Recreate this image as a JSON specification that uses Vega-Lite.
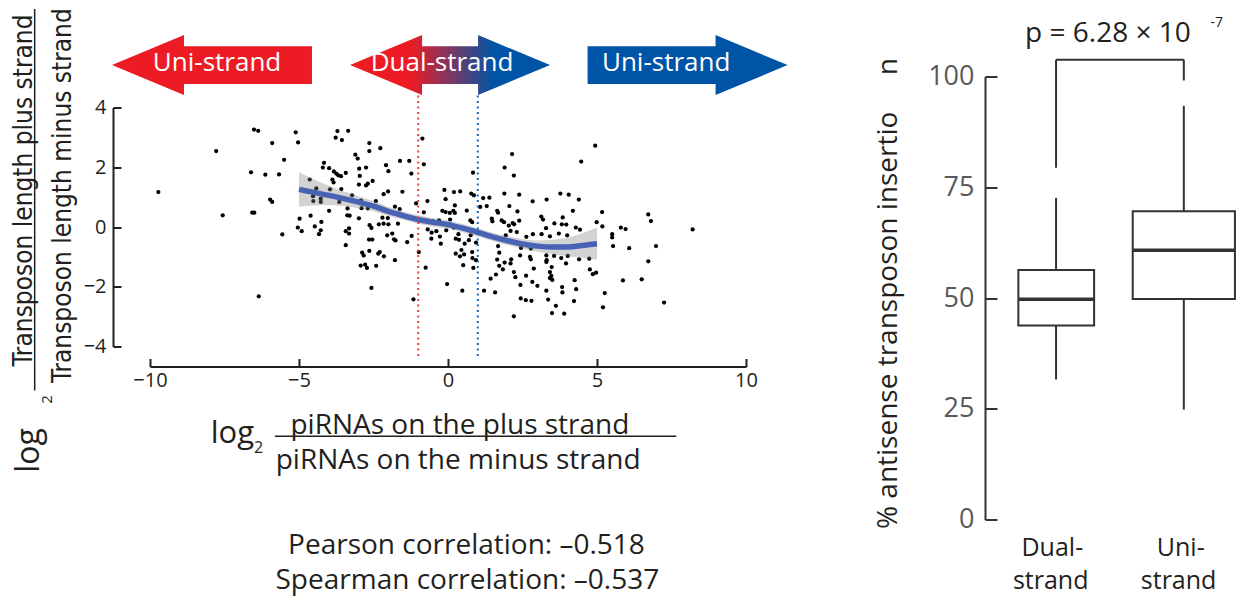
{
  "$schema": "https://vega.github.io/schema/vega-lite/v6.json",
  "background": "white",
  "padding": {"left": 10, "top": 7.5, "right": 0, "bottom": 5},
  "bounds": "flush",
  "spacing": 239,
  "config": {"view": {"stroke": null}, "font": "Open Sans", "text": {"color": "#231F20"}},
  "datasets": {
    "pts": [
      {"x":-9.72,"y":1.17},{"x":-7.78,"y":2.54},{"x":-7.56,"y":0.39},{"x":-6.51,"y":3.26},{"x":-6.37,"y":3.22},{"x":-6.61,"y":1.83},{"x":-6.13,"y":1.75},{"x":-5.90,"y":2.81},{"x":-5.67,"y":1.76},{"x":-5.50,"y":2.25},
      {"x":-5.97,"y":0.92},{"x":-5.90,"y":0.84},{"x":-6.57,"y":0.48},{"x":-6.50,"y":0.48},{"x":-5.56,"y":-0.25},{"x":-6.35,"y":-2.32},{"x":-5.11,"y":3.17},{"x":-5.03,"y":2.83},{"x":-3.71,"y":3.21},{"x":-3.35,"y":3.22},
      {"x":-3.77,"y":2.99},{"x":-3.56,"y":2.91},{"x":-2.64,"y":2.81},{"x":-2.64,"y":2.54},{"x":-2.27,"y":2.64},{"x":-0.86,"y":2.96},{"x":-3.11,"y":2.42},{"x":-3.03,"y":2.29},{"x":-4.16,"y":2.15},{"x":-4.20,"y":1.99},
      {"x":-3.99,"y":1.97},{"x":-2.08,"y":2.07},{"x":-1.61,"y":2.21},{"x":-1.30,"y":2.21},{"x":-0.81,"y":2.10},{"x":-3.83,"y":1.86},{"x":-3.75,"y":1.79},{"x":-3.68,"y":1.73},{"x":-3.59,"y":1.70},{"x":-3.43,"y":1.81},
      {"x":-2.98,"y":1.95},{"x":-2.75,"y":1.99},{"x":-2.00,"y":1.87},{"x":-1.23,"y":1.79},{"x":-2.96,"y":1.71},{"x":-3.88,"y":1.59},{"x":-4.64,"y":1.59},{"x":-3.84,"y":1.49},{"x":-2.53,"y":1.54},{"x":-2.99,"y":1.42},
      {"x":-2.69,"y":1.45},{"x":-2.75,"y":1.39},{"x":-4.42,"y":1.29},{"x":-3.96,"y":1.26},{"x":-3.58,"y":1.27},{"x":-2.01,"y":1.19},{"x":-1.53,"y":1.18},{"x":-2.16,"y":1.10},{"x":-0.12,"y":1.24},{"x":-0.08,"y":0.93},
      {"x":-4.53,"y":1.03},{"x":-4.27,"y":0.95},{"x":-4.27,"y":0.84},{"x":-4.52,"y":0.87},{"x":-3.65,"y":0.84},{"x":-3.22,"y":1.06},{"x":-2.92,"y":0.88},{"x":-2.42,"y":0.87},{"x":-1.07,"y":0.79},{"x":-0.69,"y":0.87},
      {"x":-3.37,"y":0.62},{"x":-2.90,"y":0.63},{"x":-2.69,"y":0.62},{"x":-1.78,"y":0.68},{"x":-1.62,"y":0.60},{"x":-3.99,"y":0.54},{"x":-0.81,"y":0.49},{"x":-0.19,"y":0.54},{"x":-0.08,"y":0.50},{"x":-4.61,"y":0.38},
      {"x":-4.98,"y":0.28},{"x":-3.38,"y":0.39},{"x":-3.30,"y":0.38},{"x":-2.99,"y":0.29},{"x":-2.20,"y":0.31},{"x":-2.02,"y":0.30},{"x":-4.25,"y":0.17},{"x":-4.47,"y":0.02},{"x":-2.63,"y":0.06},{"x":-2.32,"y":0.09},
      {"x":-2.16,"y":0.11},{"x":-2.00,"y":0.09},{"x":-1.68,"y":0.11},{"x":-0.50,"y":0.19},{"x":-0.30,"y":0.22},{"x":-5.04,"y":-0.02},{"x":-3.32,"y":-0.05},{"x":-4.91,"y":-0.14},{"x":-4.27,"y":-0.11},{"x":-4.33,"y":-0.24},
      {"x":-3.43,"y":-0.14},{"x":-3.32,"y":-0.22},{"x":-2.57,"y":-0.03},{"x":-2.04,"y":-0.28},{"x":-1.87,"y":-0.22},{"x":-1.81,"y":-0.41},{"x":-1.76,"y":-0.45},{"x":-2.65,"y":-0.42},{"x":-2.54,"y":-0.42},{"x":-1.37,"y":-0.51},
      {"x":-1.22,"y":-0.30},{"x":-3.43,"y":-0.61},{"x":-2.88,"y":-0.86},{"x":-2.83,"y":-0.95},{"x":-2.64,"y":-0.80},{"x":-2.34,"y":-0.89},{"x":-2.29,"y":-0.84},{"x":-2.15,"y":-0.98},{"x":-1.78,"y":-1.11},{"x":-0.98,"y":-0.84},
      {"x":-2.93,"y":-1.29},{"x":-2.78,"y":-1.26},{"x":-2.72,"y":-1.37},{"x":-2.41,"y":-1.30},{"x":-0.75,"y":-1.36},{"x":-2.57,"y":-2.04},{"x":-1.16,"y":-2.42},{"x":-0.03,"y":-1.91},{"x":-0.68,"y":-0.08},{"x":-0.55,"y":-0.19},
      {"x":-0.39,"y":-0.14},{"x":-0.56,"y":-0.39},{"x":-0.27,"y":-0.32},{"x":-0.24,"y":-0.56},{"x":-0.06,"y":-0.11},{"x":2.15,"y":2.44},{"x":1.90,"y":1.99},{"x":2.21,"y":1.72},{"x":0.84,"y":1.82},{"x":4.94,"y":2.72},
      {"x":4.47,"y":2.19},{"x":0.20,"y":1.17},{"x":0.41,"y":1.19},{"x":0.78,"y":1.12},{"x":0.87,"y":1.06},{"x":1.18,"y":0.97},{"x":1.39,"y":0.98},{"x":1.89,"y":1.12},{"x":2.39,"y":1.08},{"x":0.23,"y":0.72},
      {"x":1.08,"y":0.67},{"x":1.30,"y":0.70},{"x":2.06,"y":0.70},{"x":2.84,"y":0.86},{"x":3.31,"y":0.92},{"x":3.77,"y":1.12},{"x":4.05,"y":1.08},{"x":4.39,"y":0.92},{"x":0.63,"y":0.55},{"x":0.18,"y":0.54},
      {"x":0.06,"y":0.47},{"x":0.23,"y":0.47},{"x":1.65,"y":0.54},{"x":1.68,"y":0.48},{"x":2.33,"y":0.52},{"x":4.19,"y":0.54},{"x":5.17,"y":0.50},{"x":0.07,"y":0.25},{"x":0.75,"y":0.22},{"x":0.81,"y":0.16},
      {"x":1.47,"y":0.28},{"x":1.49,"y":0.19},{"x":1.80,"y":0.22},{"x":1.88,"y":0.16},{"x":2.17,"y":0.13},{"x":2.39,"y":0.21},{"x":2.04,"y":0.05},{"x":2.22,"y":0.09},{"x":3.13,"y":0.35},{"x":3.19,"y":0.25},
      {"x":3.57,"y":0.12},{"x":3.85,"y":0.32},{"x":3.82,"y":0.09},{"x":3.97,"y":0.08},{"x":4.99,"y":0.16},{"x":5.18,"y":0.02},{"x":4.29,"y":-0.02},{"x":4.43,"y":-0.09},{"x":3.29,"y":-0.04},{"x":2.10,"y":-0.13},
      {"x":2.31,"y":-0.17},{"x":0.20,"y":-0.02},{"x":0.35,"y":-0.24},{"x":0.76,"y":-0.28},{"x":0.26,"y":-0.39},{"x":1.94,"y":-0.28},{"x":2.63,"y":-0.33},{"x":2.85,"y":-0.24},{"x":3.14,"y":-0.24},{"x":3.42,"y":-0.31},
      {"x":3.72,"y":-0.22},{"x":4.00,"y":-0.28},{"x":0.37,"y":-0.43},{"x":0.56,"y":-0.56},{"x":0.70,"y":-0.44},{"x":0.94,"y":-0.52},{"x":0.45,"y":-0.77},{"x":0.26,"y":-0.89},{"x":0.40,"y":-0.98},{"x":0.54,"y":-0.92},
      {"x":0.81,"y":-0.84},{"x":0.82,"y":-1.04},{"x":0.94,"y":-1.11},{"x":0.51,"y":-1.28},{"x":0.85,"y":-1.37},{"x":1.68,"y":-0.64},{"x":1.72,"y":-0.86},{"x":1.65,"y":-1.09},{"x":1.90,"y":-1.19},{"x":2.10,"y":-1.22},
      {"x":2.12,"y":-1.08},{"x":1.72,"y":-1.30},{"x":1.84,"y":-1.42},{"x":2.42,"y":-0.95},{"x":2.75,"y":-1.00},{"x":2.78,"y":-1.08},{"x":2.45,"y":-0.70},{"x":2.78,"y":-0.72},{"x":3.30,"y":-0.95},{"x":3.31,"y":-1.11},
      {"x":3.30,"y":-1.17},{"x":3.56,"y":-0.97},{"x":3.48,"y":-1.34},{"x":3.80,"y":-1.04},{"x":3.96,"y":-1.22},{"x":4.02,"y":-0.97},{"x":4.40,"y":-1.08},{"x":4.74,"y":-1.06},{"x":4.76,"y":-1.42},{"x":4.86,"y":-1.58},
      {"x":4.97,"y":-1.53},{"x":2.21,"y":-1.51},{"x":2.26,"y":-1.68},{"x":1.61,"y":-1.59},{"x":1.43,"y":-1.73},{"x":2.62,"y":-1.63},{"x":2.88,"y":-1.39},{"x":3.42,"y":-1.51},{"x":3.42,"y":-1.71},{"x":3.47,"y":-1.64},
      {"x":3.50,"y":-1.77},{"x":2.83,"y":-1.84},{"x":3.00,"y":-1.97},{"x":2.43,"y":-1.94},{"x":3.30,"y":-2.13},{"x":3.83,"y":-2.01},{"x":3.84,"y":-2.19},{"x":4.25,"y":-1.78},{"x":4.30,"y":-2.08},{"x":4.23,"y":-2.48},
      {"x":0.48,"y":-2.13},{"x":1.21,"y":-2.13},{"x":1.58,"y":-2.19},{"x":2.44,"y":-2.39},{"x":2.61,"y":-2.45},{"x":2.80,"y":-2.47},{"x":3.36,"y":-2.43},{"x":3.62,"y":-2.64},{"x":3.49,"y":-2.88},{"x":3.90,"y":-2.90},
      {"x":2.21,"y":-2.99},{"x":5.20,"y":-2.69},{"x":5.51,"y":-0.24},{"x":5.51,"y":-0.35},{"x":5.54,"y":-0.64},{"x":5.80,"y":-0.02},{"x":5.96,"y":-0.07},{"x":6.08,"y":-0.71},{"x":6.72,"y":0.42},{"x":6.81,"y":0.20},
      {"x":6.98,"y":-0.64},{"x":6.72,"y":-1.15},{"x":6.50,"y":-1.75},{"x":5.87,"y":-1.79},{"x":5.26,"y":-2.21},{"x":7.25,"y":-2.53},{"x":8.21,"y":-0.08}
    ],
    "fit": [
      {"x":-5,"y":1.26},{"x":-4.5,"y":1.16},{"x":-4,"y":1.06},{"x":-3.5,"y":0.95},{"x":-3,"y":0.83},{"x":-2.5,"y":0.70},{"x":-2,"y":0.52},
      {"x":-1.5,"y":0.38},{"x":-1,"y":0.25},{"x":-0.5,"y":0.16},{"x":0,"y":0.08},{"x":0.5,"y":-0.04},{"x":1,"y":-0.18},{"x":1.5,"y":-0.33},
      {"x":2,"y":-0.46},{"x":2.5,"y":-0.57},{"x":3,"y":-0.64},{"x":3.5,"y":-0.67},{"x":4,"y":-0.67},{"x":4.5,"y":-0.62},{"x":5,"y":-0.56}
    ],
    "band": [
      {"x":-5,"y":0.68,"y2":1.84},{"x":-4.5,"y":0.72,"y2":1.60},{"x":-4,"y":0.74,"y2":1.38},{"x":-3.5,"y":0.70,"y2":1.20},{"x":-3,"y":0.63,"y2":1.03},
      {"x":-2.5,"y":0.53,"y2":0.87},{"x":-2,"y":0.37,"y2":0.67},{"x":-1.5,"y":0.24,"y2":0.52},{"x":-1,"y":0.11,"y2":0.39},{"x":-0.5,"y":0.02,"y2":0.30},
      {"x":0,"y":-0.06,"y2":0.22},{"x":0.5,"y":-0.18,"y2":0.10},{"x":1,"y":-0.32,"y2":-0.04},{"x":1.5,"y":-0.47,"y2":-0.19},{"x":2,"y":-0.61,"y2":-0.31},
      {"x":2.5,"y":-0.73,"y2":-0.41},{"x":3,"y":-0.83,"y2":-0.45},{"x":3.5,"y":-0.91,"y2":-0.43},{"x":4,"y":-0.98,"y2":-0.36},{"x":4.5,"y":-1.03,"y2":-0.21},{"x":5,"y":-1.10,"y2":-0.02}
    ],
    "vred": [{"x":-1,"y":4.40,"y2":-4.40}],
    "vblue": [{"x":1,"y":4.40,"y2":-4.40}],
    "arrowL": [{"x":-7.92,"y":5.42}],
    "arrowD": [{"x":0.07,"y":5.42}],
    "arrowR": [{"x":8.04,"y":5.42}],
    "uniTxt": [{"x":-7.75,"y":5.48,"t":"Uni-strand"},{"x":7.32,"y":5.48,"t":"Uni-strand"}],
    "dualTxt": [{"x":-0.2,"y":5.48,"t":"Dual-strand"}],
    "xTitle": [
      {"x":0.40,"y":-6.92,"t":"piRNAs on the plus strand"},
      {"x":0.34,"y":-8.09,"t":"piRNAs on the minus strand"},
      {"x":0.62,"y":-10.96,"t":"Pearson correlation: –0.518"},
      {"x":0.65,"y":-12.11,"t":"Spearman correlation: –0.537"}
    ],
    "xLog": [{"x":-7.96,"y":-7.22,"t":"log"}],
    "xSub": [{"x":-6.51,"y":-7.58,"t":"2"}],
    "xBar": [{"x":-5.81,"x2":7.66,"y":-7.0}],
    "yTitle": [
      {"x":-13.96,"y":1.22,"t":"Transposon length plus strand"},
      {"x":-12.66,"y":1.05,"t":"Transposon length minus strand"}
    ],
    "yLog": [{"x":-13.72,"y":-7.48,"t":"log"}],
    "ySub": [{"x":-13.29,"y":-5.77,"t":"2"}],
    "yBar": [{"x":-13.87,"y":7.30,"y2":-5.47}],
    "boxes": [{"x":0.705,"x2":1.298,"y":43.8,"y2":56.3},{"x":1.60,"x2":2.40,"y":49.8,"y2":69.6}],
    "whisk": [{"x":1,"y":31.6,"y2":43.8},{"x":1,"y":56.3,"y2":72.6},{"x":2,"y":24.8,"y2":49.8},{"x":2,"y":69.6,"y2":93.4}],
    "med": [{"x":0.705,"x2":1.298,"y":49.7},{"x":1.60,"x2":2.40,"y":60.8}],
    "bracket": [{"x":1,"x2":1,"y":79.4,"y2":103.8},{"x":1,"x2":2,"y":103.8,"y2":103.8},{"x":2,"x2":2,"y":99.1,"y2":103.8}],
    "cats": [{"x":0.971,"y":-8.24,"t":"Dual-"},{"x":0.958,"y":-15.75,"t":"strand"},{"x":1.976,"y":-8.24,"t":"Uni-"},{"x":1.959,"y":-15.75,"t":"strand"}],
    "pTxt": [{"x":1.406,"y":107.75,"t":"p = 6.28 × 10"}],
    "pSup": [{"x":2.258,"y":111.1,"t":"-7"}],
    "rTitle": [{"x":-0.245,"y":51.0,"t":"% antisense transposon insertio\u00a0\u00a0\u00a0\u00a0\u00a0n"}]
  },
  "hconcat": [
    {
      "width": 596,
      "height": 270,
      "encoding": {
        "x": {"field": "x", "type": "quantitative",
          "scale": {"domain": [-10, 10], "nice": false, "zero": false},
          "axis": {"title": null, "offset": 20, "values": [-10, -5, 0, 5, 10], "tickSize": -8, "tickWidth": 2, "tickColor": "#231F20",
            "domainColor": "#231F20", "domainWidth": 2, "labelPadding": 12, "labelFontSize": 20, "labelFont": "Open Sans",
            "labelColor": "#231F20", "labelFlush": false, "labelOverlap": false, "grid": false}},
        "y": {"field": "y", "type": "quantitative",
          "scale": {"domain": [-4, 4], "nice": false, "zero": false, "range": [270, 31]},
          "axis": {"title": null, "offset": 37, "values": [-4, -2, 0, 2, 4], "tickSize": -8, "tickWidth": 2, "tickColor": "#231F20",
            "domainColor": "#231F20", "domainWidth": 2, "labelPadding": 15, "labelFontSize": 20, "labelFont": "Open Sans",
            "labelColor": "#231F20", "labelFlush": false, "labelOverlap": false, "grid": false}}
      },
      "layer": [
        {"data": {"name": "pts"}, "mark": {"type": "circle", "size": 18, "color": "#000000", "opacity": 1}},
        {"data": {"name": "band"}, "mark": {"type": "area", "color": "#808080", "opacity": 0.35, "interpolate": "monotone"},
          "encoding": {"y2": {"field": "y2"}}},
        {"data": {"name": "fit"}, "mark": {"type": "line", "color": "#4863B4", "strokeWidth": 5.5, "interpolate": "monotone"}},
        {"data": {"name": "vred"}, "mark": {"type": "rule", "color": "#E8413F", "strokeWidth": 2, "strokeDash": [2, 3.5]},
          "encoding": {"y2": {"field": "y2"}}},
        {"data": {"name": "vblue"}, "mark": {"type": "rule", "color": "#1C62B9", "strokeWidth": 2, "strokeDash": [2, 3.5]},
          "encoding": {"y2": {"field": "y2"}}},
        {"data": {"name": "arrowL"}, "mark": {"type": "point", "shape": "M-1,0L-0.28,-0.3L-0.28,-0.188L1,-0.188L1,0.188L-0.28,0.188L-0.28,0.3Z",
          "size": 40000, "filled": true, "color": "#ED1C24", "opacity": 1, "strokeWidth": 0}},
        {"data": {"name": "arrowD"}, "mark": {"type": "point", "shape": "M-1,0L-0.28,-0.3L-0.28,-0.188L0.28,-0.188L0.28,-0.3L1,0L0.28,0.3L0.28,0.188L-0.28,0.188L-0.28,0.3Z",
          "size": 40000, "filled": true, "opacity": 1, "strokeWidth": 0,
          "fill": {"gradient": "linear", "x1": 0, "y1": 0, "x2": 1, "y2": 0,
            "stops": [{"offset": 0, "color": "#ED1C24"}, {"offset": 0.3, "color": "#ED1C24"}, {"offset": 0.72, "color": "#0054A6"}, {"offset": 1, "color": "#0054A6"}]}}},
        {"data": {"name": "arrowR"}, "mark": {"type": "point", "shape": "M1,0L0.28,-0.3L0.28,-0.188L-1,-0.188L-1,0.188L0.28,0.188L0.28,0.3Z",
          "size": 40000, "filled": true, "color": "#0054A6", "opacity": 1, "strokeWidth": 0}},
        {"data": {"name": "uniTxt"}, "mark": {"type": "text", "color": "#FFFFFF", "fontSize": 26, "align": "center", "baseline": "middle"},
          "encoding": {"text": {"field": "t"}}},
        {"data": {"name": "dualTxt"}, "mark": {"type": "text", "color": "#FFFFFF", "font": "Liberation Sans Narrow, Open Sans", "fontSize": 26, "align": "center", "baseline": "middle"},
          "encoding": {"text": {"field": "t"}}},
        {"data": {"name": "xTitle"}, "mark": {"type": "text", "fontSize": 28, "align": "center", "baseline": "alphabetic"},
          "encoding": {"text": {"field": "t"}}},
        {"data": {"name": "xLog"}, "mark": {"type": "text", "fontSize": 31, "align": "left", "baseline": "alphabetic"},
          "encoding": {"text": {"field": "t"}}},
        {"data": {"name": "xSub"}, "mark": {"type": "text", "fontSize": 16, "align": "left", "baseline": "alphabetic"},
          "encoding": {"text": {"field": "t"}}},
        {"data": {"name": "xBar"}, "mark": {"type": "rule", "color": "#231F20", "strokeWidth": 1.5},
          "encoding": {"x2": {"field": "x2"}}},
        {"data": {"name": "yTitle"}, "mark": {"type": "text", "font": "Liberation Sans Narrow, DejaVu Sans Condensed, Open Sans", "fontSize": 26, "angle": 270, "align": "center", "baseline": "alphabetic"},
          "encoding": {"text": {"field": "t"}}},
        {"data": {"name": "yLog"}, "mark": {"type": "text", "fontSize": 32, "angle": 270, "align": "center", "baseline": "alphabetic"},
          "encoding": {"text": {"field": "t"}}},
        {"data": {"name": "ySub"}, "mark": {"type": "text", "fontSize": 15, "angle": 270, "align": "center", "baseline": "alphabetic"},
          "encoding": {"text": {"field": "t"}}},
        {"data": {"name": "yBar"}, "mark": {"type": "rule", "color": "#231F20", "strokeWidth": 1.5},
          "encoding": {"y2": {"field": "y2"}}}
      ]
    },
    {
      "width": 253,
      "height": 443,
      "encoding": {
        "x": {"field": "x", "type": "quantitative", "scale": {"domain": [0.444, 2.424], "nice": false, "zero": false}, "axis": null},
        "y": {"field": "y", "type": "quantitative", "scale": {"domain": [0, 100], "nice": false, "zero": false},
          "axis": {"title": null, "values": [0, 25, 50, 75, 100], "tickSize": -12, "tickWidth": 2, "tickColor": "#333333",
            "domainColor": "#333333", "domainWidth": 2, "labelPadding": 23, "labelFontSize": 27, "labelFont": "Open Sans",
            "labelColor": "#58595B", "grid": false, "labelOverlap": false, "labelFlush": false}}
      },
      "layer": [
        {"data": {"name": "whisk"}, "mark": {"type": "rule", "color": "#333333", "strokeWidth": 2},
          "encoding": {"y2": {"field": "y2"}}},
        {"data": {"name": "boxes"}, "mark": {"type": "rect", "fill": "#FFFFFF", "stroke": "#333333", "strokeWidth": 2},
          "encoding": {"x2": {"field": "x2"}, "y2": {"field": "y2"}}},
        {"data": {"name": "med"}, "mark": {"type": "rule", "color": "#333333", "strokeWidth": 3.5},
          "encoding": {"x2": {"field": "x2"}}},
        {"data": {"name": "bracket"}, "mark": {"type": "rule", "color": "#333333", "strokeWidth": 2},
          "encoding": {"x2": {"field": "x2"}, "y2": {"field": "y2"}}},
        {"data": {"name": "cats"}, "mark": {"type": "text", "fontSize": 25, "align": "center", "baseline": "alphabetic"},
          "encoding": {"text": {"field": "t"}}},
        {"data": {"name": "pTxt"}, "mark": {"type": "text", "fontSize": 28, "align": "center", "baseline": "alphabetic"},
          "encoding": {"text": {"field": "t"}}},
        {"data": {"name": "pSup"}, "mark": {"type": "text", "fontSize": 14, "align": "center", "baseline": "alphabetic"},
          "encoding": {"text": {"field": "t"}}},
        {"data": {"name": "rTitle"}, "mark": {"type": "text", "fontSize": 28, "angle": 270, "align": "center", "baseline": "alphabetic"},
          "encoding": {"text": {"field": "t"}}}
      ]
    }
  ]
}
